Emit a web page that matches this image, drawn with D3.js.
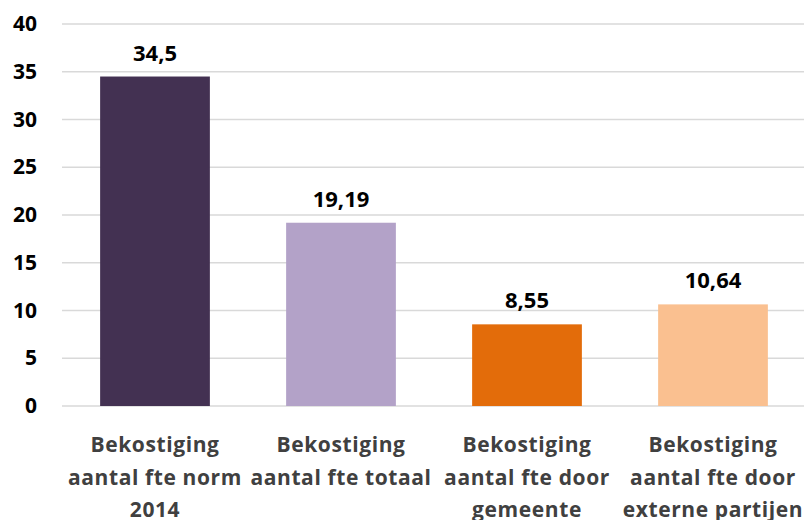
<!DOCTYPE html>
<html>
<head>
<meta charset="utf-8">
<script src="https://cdn.jsdelivr.net/npm/d3@7"></script>
<style>
  html, body { margin: 0; padding: 0; background: #ffffff; }
  svg { display: block; }
  text { font-family: "Open Sans", "Liberation Sans", sans-serif; font-weight: 700; }
</style>
</head>
<body>
<svg id="chart" width="804" height="520"></svg>
<script>
// Categories (each label split into lines) and values
const categories = [
  ["Bekostiging", "aantal fte norm", "2014"],
  ["Bekostiging", "aantal fte totaal"],
  ["Bekostiging", "aantal fte door", "gemeente"],
  ["Bekostiging", "aantal fte door", "externe partijen"]
];
const values = [34.5, 19.19, 8.55, 10.64];
const valueLabels = ["34,5", "19,19", "8,55", "10,64"];
const colors = ["#433152", "#b3a2c8", "#e36c0a", "#fac090"];
const yTicks = [0, 5, 10, 15, 20, 25, 30, 35, 40];

const svg = d3.select("#chart");
const plot = { left: 62, right: 806, top: 24, bottom: 406 };

const x = d3.scaleBand()
  .domain(d3.range(values.length))
  .range([plot.left, plot.right])
  .paddingInner(0.41)
  .paddingOuter(0.205);

const y = d3.scaleLinear().domain([0, 40]).range([plot.bottom, plot.top]);

// Horizontal gridlines
svg.append("g")
  .selectAll("line")
  .data(yTicks)
  .join("line")
  .attr("x1", plot.left).attr("x2", 804)
  .attr("y1", d => y(d)).attr("y2", d => y(d))
  .attr("stroke", "#d9d9d9")
  .attr("stroke-width", 1.5);

// Y axis labels
const yAxis = d3.axisLeft(y).tickValues(yTicks).tickSize(0).tickPadding(0);
const yg = svg.append("g").attr("transform", "translate(37,0)").call(yAxis);
yg.select(".domain").remove();
yg.selectAll("text")
  .attr("font-size", 21)
  .attr("fill", "#000")
  .style("font-family", "'Open Sans', 'Liberation Sans', sans-serif")
  .style("font-weight", 700);

// Bars
svg.append("g")
  .selectAll("rect")
  .data(values)
  .join("rect")
  .attr("x", (d, i) => x(i))
  .attr("width", x.bandwidth())
  .attr("y", d => y(d))
  .attr("height", d => y(0) - y(d))
  .attr("fill", (d, i) => colors[i]);

// Value labels above bars
svg.append("g")
  .selectAll("text")
  .data(values)
  .join("text")
  .attr("x", (d, i) => x(i) + x.bandwidth() / 2)
  .attr("y", d => y(d) - 16)
  .attr("text-anchor", "middle")
  .attr("font-size", 22)
  .attr("fill", "#000")
  .text((d, i) => valueLabels[i]);

// Category labels below axis
const cat = svg.append("g")
  .selectAll("text")
  .data(categories)
  .join("text")
  .attr("x", (d, i) => x(i) + x.bandwidth() / 2)
  .attr("y", 452)
  .attr("text-anchor", "middle")
  .attr("font-size", 21)
  .attr("letter-spacing", 0.6)
  .attr("fill", "#404040");
cat.selectAll("tspan")
  .data(d => d)
  .join("tspan")
  .attr("x", function () { return d3.select(this.parentNode).attr("x"); })
  .attr("dy", (d, i) => i === 0 ? 0 : 32.5)
  .text(d => d);
</script>
</body>
</html>
